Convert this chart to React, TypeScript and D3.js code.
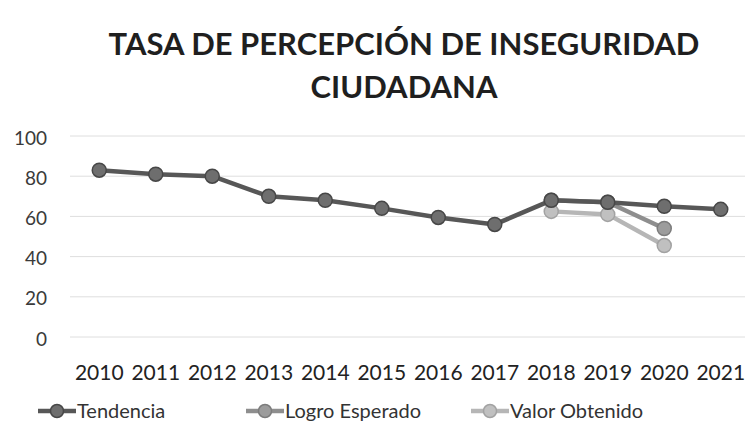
import React, { useEffect, useRef } from 'react';
import * as d3 from 'd3';

const years = ['2010', '2011', '2012', '2013', '2014', '2015', '2016', '2017', '2018', '2019', '2020', '2021'];
const tendencia = [83, 81, 80, 70, 68, 64, 59.5, 56, 68, 67, 65, 63.5];
const logroEsperado: (number | null)[] = [null, null, null, null, null, null, null, null, 68, 67, 54, null];
const valorObtenido: (number | null)[] = [null, null, null, null, null, null, null, null, 62.5, 61, 45.5, null];
const yTicks = [0, 20, 40, 60, 80, 100];
const titleLines = ['TASA DE PERCEPCIÓN DE INSEGURIDAD', 'CIUDADANA'];

const series = [
  { name: 'Tendencia', values: tendencia, stroke: '#575757', fill: '#6e6e6e', ring: '#474747' },
  { name: 'Logro Esperado', values: logroEsperado, stroke: '#8e8e8e', fill: '#9c9c9c', ring: '#7c7c7c' },
  { name: 'Valor Obtenido', values: valorObtenido, stroke: '#b6b6b6', fill: '#c0c0c0', ring: '#a2a2a2' },
];

export default function App() {
  const svgRef = useRef<SVGSVGElement>(null);

  useEffect(() => {
    const width = 747;
    const height = 433;
    const svg = d3.select(svgRef.current).attr('width', width).attr('height', height);
    svg.selectAll('*').remove();

    const font = 'Lato, "Open Sans", sans-serif';

    // scales
    const x = d3.scalePoint<string>().domain(years).range([71, 749]).padding(0.5);
    const y = d3.scaleLinear().domain([0, 100]).range([337, 136]);

    // title
    svg.append('g')
      .selectAll('text')
      .data(titleLines)
      .join('text')
      .attr('x', 404)
      .attr('y', (d, i) => 55 + i * 43)
      .attr('text-anchor', 'middle')
      .attr('font-family', font)
      .attr('font-weight', 'bold')
      .attr('font-size', '31px')
      .attr('fill', '#1f1f1f')
      .text(d => d);

    // grid lines
    svg.append('g')
      .selectAll('line')
      .data(yTicks)
      .join('line')
      .attr('x1', 70)
      .attr('x2', 745)
      .attr('y1', d => y(d))
      .attr('y2', d => y(d))
      .attr('stroke', '#dedede')
      .attr('stroke-width', 1);

    // y labels
    svg.append('g')
      .selectAll('text')
      .data(yTicks)
      .join('text')
      .attr('x', 47)
      .attr('y', d => y(d) + 2)
      .attr('dy', '0.35em')
      .attr('text-anchor', 'end')
      .attr('font-family', font)
      .attr('font-size', '19px')
      .attr('fill', '#3a3a3a')
      .text(d => d);

    // x labels
    svg.append('g')
      .selectAll('text')
      .data(years)
      .join('text')
      .attr('x', d => x(d) as number)
      .attr('y', 380)
      .attr('text-anchor', 'middle')
      .attr('font-family', font)
      .attr('font-size', '21px')
      .attr('fill', '#222')
      .text(d => d);

    // lines + markers (lighter series first so Tendencia stays on top)
    [...series].reverse().forEach(s => {
      const pts = s.values
        .map((v, i) => ({ year: years[i], v }))
        .filter(p => p.v !== null) as { year: string; v: number }[];

      const line = d3.line<{ year: string; v: number }>()
        .x(p => x(p.year) as number)
        .y(p => y(p.v));

      svg.append('path')
        .datum(pts)
        .attr('fill', 'none')
        .attr('stroke', s.stroke)
        .attr('stroke-width', 4.5)
        .attr('stroke-linejoin', 'round')
        .attr('d', line);

      svg.append('g')
        .selectAll('circle')
        .data(pts)
        .join('circle')
        .attr('cx', p => x(p.year) as number)
        .attr('cy', p => y(p.v))
        .attr('r', 7)
        .attr('fill', s.fill)
        .attr('stroke', s.ring)
        .attr('stroke-width', 1.5);
    });

    // legend
    const legendX = [38, 246, 471];
    const legend = svg.append('g');
    series.forEach((s, i) => {
      const g = legend.append('g').attr('transform', `translate(${legendX[i]}, 411)`);
      g.append('line')
        .attr('x1', 0)
        .attr('x2', 38)
        .attr('y1', 0)
        .attr('y2', 0)
        .attr('stroke', s.stroke)
        .attr('stroke-width', 4.5);
      g.append('circle')
        .attr('cx', 19)
        .attr('cy', 0)
        .attr('r', 6.5)
        .attr('fill', s.fill)
        .attr('stroke', s.ring)
        .attr('stroke-width', 1.5);
      g.append('text')
        .attr('x', 39)
        .attr('y', 0)
        .attr('dy', '0.35em')
        .attr('font-family', font)
        .attr('font-size', '20px')
        .attr('fill', '#333')
        .text(s.name);
    });
  }, []);

  return (
    <div style={{ position: 'absolute', left: 0, top: 0 }}>
      <svg ref={svgRef} style={{ display: 'block', background: '#fff' }}></svg>
    </div>
  );
}
